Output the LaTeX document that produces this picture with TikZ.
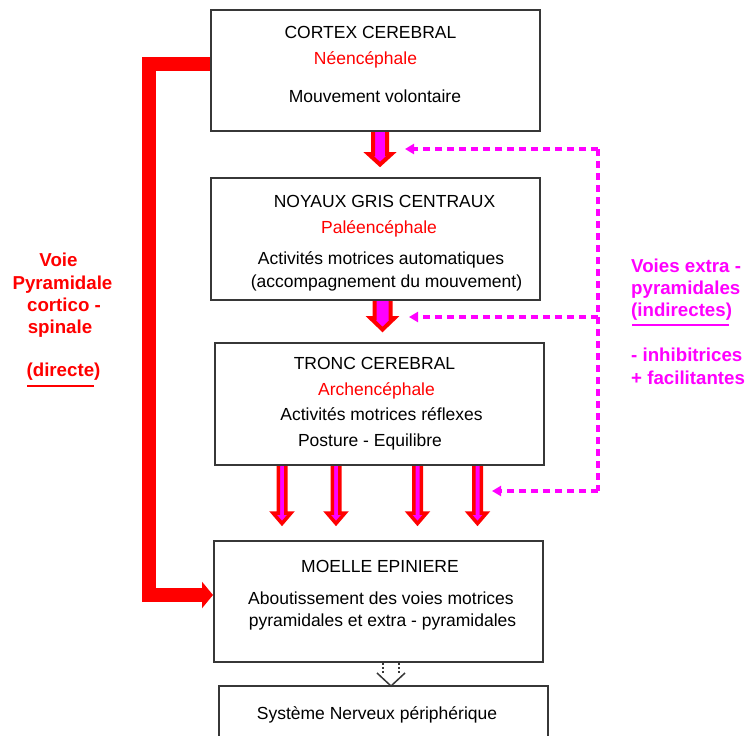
\documentclass[tikz,border=0pt]{standalone}
\usepackage{fontspec}
\setmainfont{Liberation Sans}
\usetikzlibrary{arrows.meta}
\definecolor{mag}{RGB}{255,0,255}
\definecolor{rd}{RGB}{255,0,0}
\definecolor{boxline}{RGB}{55,55,55}
\newcommand\blkarrow[7]{%
  \filldraw[draw=rd,fill=mag,line width=#7,line join=miter]
  (#1-#5,#2) -- (#1-#5,#3) -- (#1-#6,#3) -- (#1,#4) -- (#1+#6,#3) -- (#1+#5,#3) -- (#1+#5,#2);}
\begin{document}
\begin{tikzpicture}[x=1pt,y=-1pt,
  box/.style={draw=boxline,line width=2pt,fill=white,inner sep=0pt},
  txt/.style={font=\fontsize{17.5}{20}\selectfont,inner sep=0pt,anchor=center,text height=12.5pt,text depth=0pt},
  btxt/.style={font=\fontsize{18.7}{21}\selectfont\bfseries,inner sep=0pt,text height=13.5pt,text depth=0pt},
  dashmag/.style={draw=mag,line width=3.2pt,dash pattern=on 7pt off 5pt},
  magtip/.style={-{Triangle[length=9pt,width=10pt]}}]
\clip (0,0) rectangle (747,736);
\fill[white] (0,0) rectangle (747,736);

% boxes
\node[box,minimum width=329pt,minimum height=121pt] (b1) at (375.5,70.5) {};
\node[box,minimum width=329pt,minimum height=122pt] (b2) at (375.5,239) {};
\node[box,minimum width=329pt,minimum height=122pt] (b3) at (379.5,404) {};
\node[box,minimum width=329pt,minimum height=121pt] (b4) at (378.5,601.5) {};
\node[box,minimum width=329pt,minimum height=80pt] (b5) at (383.5,726) {};

% box texts
\node[txt] (t11) at (370.5,32) {CORTEX CEREBRAL};
\node[txt,text=rd] (t12) at (365.5,58) {Néencéphale};
\node[txt] (t13) at (375,96) {Mouvement volontaire};

\node[txt] (t21) at (384.5,201) {NOYAUX GRIS CENTRAUX};
\node[txt,text=rd] (t22) at (379,227) {Paléencéphale};
\node[txt] (t23) at (381,258) {Activités motrices automatiques};
\node[txt] (t24) at (386.5,281) {(accompagnement du mouvement)};

\node[txt] (t31) at (374.5,363) {TRONC CEREBRAL};
\node[txt,text=rd] (t32) at (376.5,389) {Archencéphale};
\node[txt] (t33) at (381.5,414) {Activités motrices réflexes};
\node[txt] (t34) at (370,440) {Posture - Equilibre};

\node[txt] (t41) at (380,566) {MOELLE EPINIERE};
\node[txt] (t42) at (381,598) {Aboutissement des voies motrices};
\node[txt] (t43) at (382.5,620) {pyramidales et extra - pyramidales};

\node[txt] (t51) at (377,713) {Système Nerveux périphérique};

% block arrows between boxes
\blkarrow{380}{132}{154}{164.5}{7}{11.5}{4pt}
\blkarrow{382.5}{301}{318}{329.5}{8}{12}{4pt}
\blkarrow{282}{466}{513}{523.5}{3.75}{9}{3.5pt}
\blkarrow{336}{466}{513}{523.5}{3.75}{9}{3.5pt}
\blkarrow{417.5}{466}{513}{523.5}{3.75}{9}{3.5pt}
\blkarrow{477.5}{466}{513}{523.5}{3.75}{9}{3.5pt}

% pyramidal (direct) pathway
\coordinate (p1) at (b1.west |- 0,64);
\coordinate (p4) at (b4.west |- 0,595);
\draw[rd,line width=14pt,line join=miter,-{Triangle[length=11pt,width=26pt]}]
  (p1) -- (149,64) -- (149,595) -- (p4);

% extra-pyramidal (indirect) pathways
\coordinate (v1) at (598,149);
\coordinate (v2) at (598,317);
\coordinate (v3) at (598,491);
\coordinate (e1) at (405,149);
\coordinate (e2) at (409,317);
\coordinate (e3) at (492,491);
\draw[dashmag] (v1) -- (v3);
\draw[dashmag,magtip] (v1) -- (e1);
\draw[dashmag,magtip] (v2) -- (e2);
\draw[dashmag,magtip] (v3) -- (e3);

% output to peripheral nervous system
\draw[boxline,line width=1.5pt,dash pattern=on 2pt off 2pt] (383,663) -- (383,673);
\draw[boxline,line width=1.5pt,dash pattern=on 2pt off 2pt] (399,663) -- (399,673);
\draw[boxline,line width=1.5pt] (377,673) -- (391,686) -- (405,673);

% left label
\node[btxt,text=rd] (l1) at (58.5,260) {Voie};
\node[btxt,text=rd] (l2) at (62.5,283) {Pyramidale};
\node[btxt,text=rd] (l3) at (64,305) {cortico -};
\node[btxt,text=rd] (l4) at (60,327) {spinale};
\node[btxt,text=rd] (l5) at (63.5,370) {(directe)};
\draw[rd,line width=2pt] (27,386) -- (94,386);

% right label
\node[btxt,text=mag,anchor=west] (r1) at (631,266) {Voies extra -};
\node[btxt,text=mag,anchor=west] (r2) at (631,288) {pyramidales};
\node[btxt,text=mag,anchor=west] (r3) at (631,310) {(indirectes)};
\draw[mag,line width=2pt] (632,325) -- (729,325);
\node[btxt,text=mag,anchor=west] (r4) at (631,355) {- inhibitrices};
\node[btxt,text=mag,anchor=west] (r5) at (631,378) {+ facilitantes};
\end{tikzpicture}
\end{document}
